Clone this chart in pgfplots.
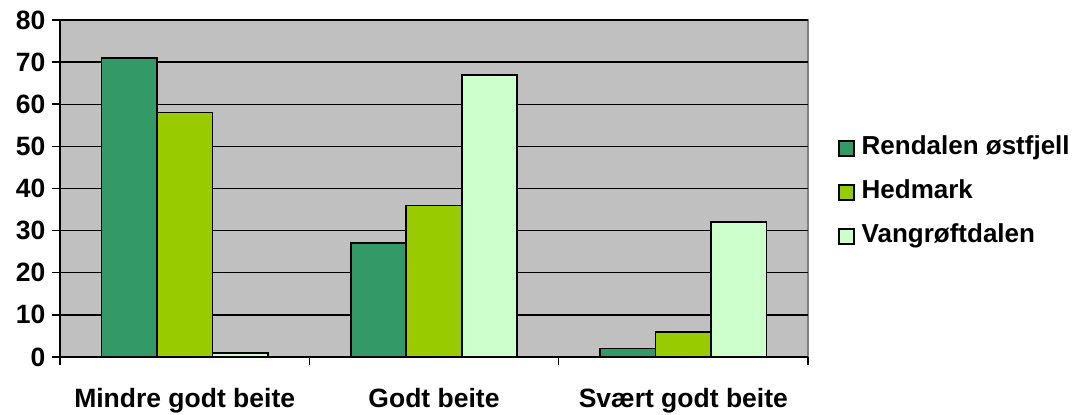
\documentclass[border=0pt]{standalone}
\usepackage{fontspec}
\setmainfont{Liberation Sans}
\usepackage{pgfplots}
\pgfplotsset{compat=1.18}
\definecolor{cA}{HTML}{339966}
\definecolor{cB}{HTML}{99CC00}
\definecolor{cC}{HTML}{CCFFCC}
\definecolor{bg}{HTML}{C0C0C0}
\definecolor{bd}{HTML}{808080}
\begin{document}
\begin{tikzpicture}
\useasboundingbox (-60pt,-58pt) rectangle (1012pt,357pt);
\begin{axis}[
  at={(0pt,0pt)}, anchor=south west,
  scale only axis, width=748pt, height=337pt,
  xmin=-0.5, xmax=2.5, ymin=0, ymax=80,
  ybar=0pt, bar width=55.5pt,
  axis x line*=bottom, axis y line*=left,
  axis line style={line width=1.8pt, black},
  axis background/.style={fill=bg, draw=bd, line width=1.5pt},
  ymajorgrids, grid style={black, line width=1.4pt},
  ytick={0,10,...,80},
  xtick={0,1,2},
  xticklabels={Mindre godt beite, Godt beite, Svært godt beite},
  minor xtick={-0.5,0.5,1.5,2.5},
  major x tick style={draw=none},
  minor x tick style={black, line width=1.5pt},
  minor tick length=8pt,
  major tick length=8pt,
  y tick style={black, line width=1.5pt},
  tick align=outside,
  /pgf/number format/assume math mode=true,
  ticklabel style={font=\fontsize{26.5}{30}\selectfont\bfseries},
  yticklabel style={xshift=-3pt},
  xticklabel style={yshift=-20pt},
  legend style={at={(1.04,0.49)}, anchor=west, draw=none, fill=none,
    font=\fontsize{26}{30}\selectfont\bfseries,
    nodes={inner sep=1pt, text height=19pt, text depth=6pt},
    row sep=17pt, inner sep=0pt},
  legend image code/.code={\draw[#1, line width=1.5pt] (0pt,-8pt) rectangle (15pt,7pt); \path (21pt,0pt);},
  legend cell align=left,
  clip=false,
]
\addplot[fill=cA, draw=black, line width=1.6pt] coordinates {(0,71) (1,27) (2,2)};
\addplot[fill=cB, draw=black, line width=1.6pt] coordinates {(0,58) (1,36) (2,6)};
\addplot[fill=cC, draw=black, line width=1.6pt] coordinates {(0,1) (1,67) (2,32)};
\legend{Rendalen østfjell, Hedmark, Vangrøftdalen}
\end{axis}
\end{tikzpicture}
\end{document}
